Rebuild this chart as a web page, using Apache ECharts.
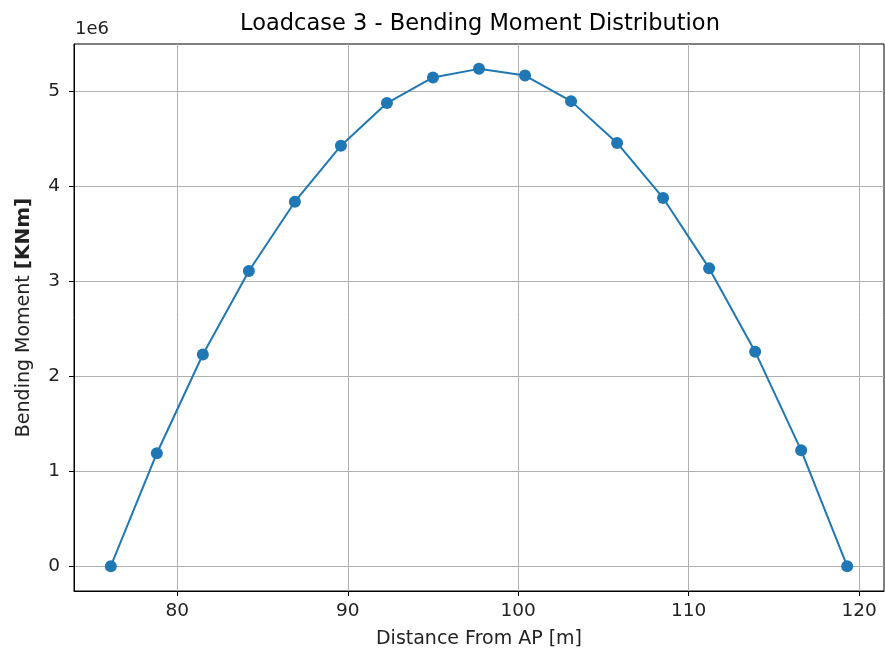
<!DOCTYPE html>
<html>
<head>
<meta charset="utf-8">
<script src="https://cdn.jsdelivr.net/npm/echarts@6/dist/echarts.min.js"></script>
<style>
  html, body { margin: 0; padding: 0; background: #fff; }
  #chart { width: 885px; height: 654px; }
</style>
</head>
<body>
<div id="chart"></div>
<script>
  // distance from AP [m]
  var distance = [76.1, 78.8, 81.5, 84.2, 86.9, 89.6, 92.3, 95.0, 97.7,
    100.4, 103.1, 105.8, 108.5, 111.2, 113.9, 116.6, 119.3];
  // bending moment [KNm]
  var moment = [0, 1.19e6, 2.23e6, 3.11e6, 3.84e6, 4.43e6, 4.88e6, 5.15e6, 5.24e6,
    5.17e6, 4.90e6, 4.46e6, 3.88e6, 3.14e6, 2.26e6, 1.22e6, 0];
  var xTicks = [80, 90, 100, 110, 120];
  var yTicks = [0, 1e6, 2e6, 3e6, 4e6, 5e6];

  var font = 'DejaVu Sans';
  var chart = echarts.init(document.getElementById('chart'));

  chart.setOption({
    animation: false,
    textStyle: { fontFamily: font },
    title: {
      text: 'Loadcase 3 - Bending Moment Distribution',
      left: 475,
      textAlign: 'center',
      top: 8,
      textStyle: { fontFamily: font, fontSize: 22.5, fontWeight: 'normal', color: '#000' }
    },
    graphic: [{
      type: 'text',
      left: 75,
      top: 20,
      style: { text: '1e6', font: '18px "DejaVu Sans"', fill: '#222' }
    }],
    grid: {
      left: 74, right: 1, top: 44, bottom: 63,
      show: true, borderColor: '#000', borderWidth: 1
    },
    xAxis: {
      type: 'value',
      min: 73.94,
      max: 121.46,
      name: 'Distance From AP [m]',
      nameLocation: 'middle',
      nameGap: 39,
      nameTextStyle: { fontFamily: font, fontSize: 19, color: '#222' },
      axisLine: { onZero: false, lineStyle: { color: '#000', width: 1 } },
      axisTick: { show: true, length: 5, customValues: xTicks, lineStyle: { color: '#000' } },
      axisLabel: { customValues: xTicks, margin: 11, fontFamily: font, fontSize: 18.5, color: '#222' },
      splitLine: { show: true, lineStyle: { color: '#b0b0b0', width: 1 } }
    },
    yAxis: {
      type: 'value',
      min: -0.262e6,
      max: 5.502e6,
      name: '{a|Bending Moment }{b|[KNm]}',
      nameLocation: 'middle',
      nameGap: 40,
      nameTextStyle: {
        rich: {
          a: { fontFamily: font, fontSize: 19, color: '#222' },
          b: { fontFamily: font, fontSize: 20, fontWeight: 'bold', color: '#222' }
        }
      },
      axisLine: { show: true, onZero: false, lineStyle: { color: '#000', width: 1 } },
      axisTick: { show: true, length: 5, customValues: yTicks, lineStyle: { color: '#000' } },
      axisLabel: {
        customValues: yTicks, margin: 14, fontFamily: font, fontSize: 18.5, color: '#222',
        formatter: function (v) { return String(Math.round(v / 1e6)); }
      },
      splitLine: { show: true, lineStyle: { color: '#b0b0b0', width: 1 } }
    },
    series: [{
      type: 'line',
      data: distance.map(function (d, i) { return [d, moment[i]]; }),
      symbol: 'circle',
      symbolSize: 12,
      showAllSymbol: true,
      lineStyle: { color: '#1f77b4', width: 2 },
      itemStyle: { color: '#1f77b4' }
    }]
  });
</script>
</body>
</html>
